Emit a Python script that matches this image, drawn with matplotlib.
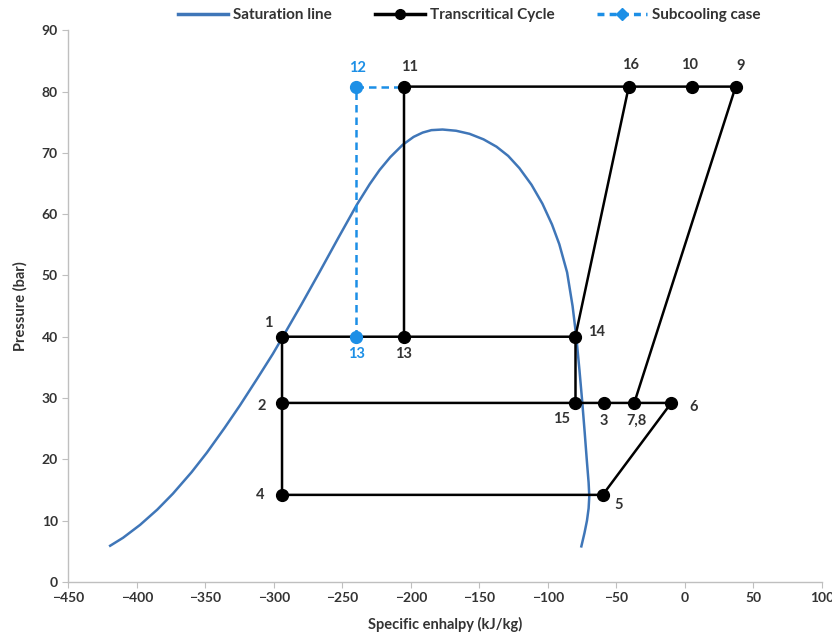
import matplotlib
matplotlib.use("Agg")
import matplotlib.pyplot as plt
from matplotlib.lines import Line2D
import numpy as np

plt.rcParams['font.family'] = ['Lato', 'DejaVu Sans']

# Saturation line (specific enthalpy kJ/kg, pressure bar)
sat_h = [-419.4, -410.0, -397.6, -385.0, -373.6, -360.0, -348.8, -336.0, -324.7, -312.0,
         -300.7, -293.4, -280.0, -266.5, -253.0, -239.5, -230.0, -222.8, -215.0, -206.0,
         -198.0, -191.4, -185.0, -176.9, -167.0, -157.2, -147.0, -137.5, -129.0, -120.8,
         -112.0, -104.0, -97.0, -91.7, -86.0, -82.0, -79.3, -77.0, -75.0, -73.2,
         -71.6, -70.3, -69.8, -70.3, -71.5, -73.3, -75.6]
sat_p = [5.9, 7.2, 9.3, 11.8, 14.4, 17.9, 21.1, 25.1, 28.8, 33.2,
         37.2, 40.0, 45.2, 50.6, 56.1, 61.5, 64.9, 67.2, 69.3, 71.3,
         72.6, 73.3, 73.7, 73.8, 73.6, 73.1, 72.2, 71.0, 69.5, 67.5,
         64.8, 61.7, 58.3, 55.1, 50.5, 45.0, 40.0, 34.6, 29.5, 24.5,
         19.8, 16.2, 14.0, 12.0, 10.0, 8.0, 5.8]

# Transcritical cycle state points
pt_labels = ['1', '2', '4', '5', '6', '7,8', '3', '15', '14', '13', '11', '16', '10', '9']
pt_h = [-294, -294, -294, -60, -10, -37, -59, -80, -80, -205, -205, -41, 5, 37]
pt_p = [40.0, 29.2, 14.2, 14.2, 29.2, 29.2, 29.2, 29.2, 40.0, 40.0, 80.8, 80.8, 80.8, 80.8]

# Cycle line segments (sequences of point labels)
segments = [['4', '2', '1', '14', '16', '11', '13'],
            ['4', '5', '6', '2'],
            ['7,8', '9', '16'],
            ['14', '15']]

# Subcooling case
sub_labels = ['13', '12', '11']
sub_h = [-240, -240, -205]
sub_p = [40.0, 80.8, 80.8]

# label offsets in pixels
offsets = {'1': (-14, 14), '2': (-20, -3), '4': (-22, 0), '5': (16, -10), '6': (22, -4),
           '7,8': (2, -18), '3': (0, -18), '15': (-14, -16), '14': (21, 5), '13': (0, -17),
           '11': (6, 20), '16': (2, 22), '10': (-2, 22), '9': (5, 21)}

BLACK = '#000000'
BLUE = '#1C8FE6'
SATC = '#3F76B8'
TXT = '#333333'

fig = plt.figure(figsize=(8.32, 6.43), dpi=100)
ax = fig.add_axes([0.082, 0.095, 0.906, 0.858])

ax.plot(sat_h, sat_p, color=SATC, lw=1.8, zorder=2, solid_joinstyle='round')

idx = {l: i for i, l in enumerate(pt_labels)}
for seg in segments:
    ax.plot([pt_h[idx[l]] for l in seg], [pt_p[idx[l]] for l in seg],
            color=BLACK, lw=1.8, zorder=3, solid_capstyle='butt')
ax.plot(pt_h, pt_p, 'o', color=BLACK, ms=8.5, zorder=4, linestyle='none')

ax.plot(sub_h, sub_p, color=BLUE, lw=1.8, ls=(0, (3, 2)), zorder=3)
ax.plot(sub_h[:2], sub_p[:2], 'o', color=BLUE, ms=8.5, zorder=5, linestyle='none')

for l, h, p in zip(pt_labels, pt_h, pt_p):
    dx, dy = offsets[l]
    ax.annotate(l, (h, p), xytext=(dx, dy), textcoords='offset pixels',
                ha='center', va='center', fontsize=10.5, fontweight='bold', color=TXT)
ax.annotate('12', (sub_h[1], sub_p[1]), xytext=(1, 19), textcoords='offset pixels',
            ha='center', va='center', fontsize=10.5, fontweight='bold', color=BLUE)
ax.annotate('13', (sub_h[0], sub_p[0]), xytext=(0, -17), textcoords='offset pixels',
            ha='center', va='center', fontsize=10.5, fontweight='bold', color=BLUE)

ax.set_xlim(-450, 100)
ax.set_ylim(0, 90)
ax.set_xticks(np.arange(-450, 101, 50))
ax.set_yticks(np.arange(0, 91, 10))
for s in ['top', 'right']:
    ax.spines[s].set_visible(False)
for s in ['left', 'bottom']:
    ax.spines[s].set_color('#BFBFBF')
    ax.spines[s].set_linewidth(1.0)
ax.tick_params(axis='both', colors='#BFBFBF', labelcolor=TXT, labelsize=10, length=4, direction='out')
for t in ax.get_xticklabels() + ax.get_yticklabels():
    t.set_fontweight('bold')
ax.set_xlabel('Specific enhalpy (kJ/kg)', fontsize=10.5, fontweight='bold', color=TXT, labelpad=9)
ax.set_ylabel('Pressure (bar)', fontsize=10.5, fontweight='bold', color=TXT, labelpad=10)

handles = [Line2D([], [], color=SATC, lw=2.5),
           Line2D([], [], color=BLACK, lw=2.5, marker='o', ms=7),
           Line2D([], [], color=BLUE, lw=2.5, ls=(0, (2, 1.5)), marker='D', ms=6)]
leg = fig.legend(handles, ['Saturation line', 'Transcritical Cycle', 'Subcooling case'],
                 loc='center', bbox_to_anchor=(0.564, 0.976), ncol=3, frameon=False,
                 handlelength=3.3, handletextpad=0.3, columnspacing=2.8,
                 prop={'family': 'Lato', 'weight': 'bold', 'size': 11})
for t in leg.get_texts():
    t.set_color(TXT)

fig.savefig('out.png', dpi=100)
